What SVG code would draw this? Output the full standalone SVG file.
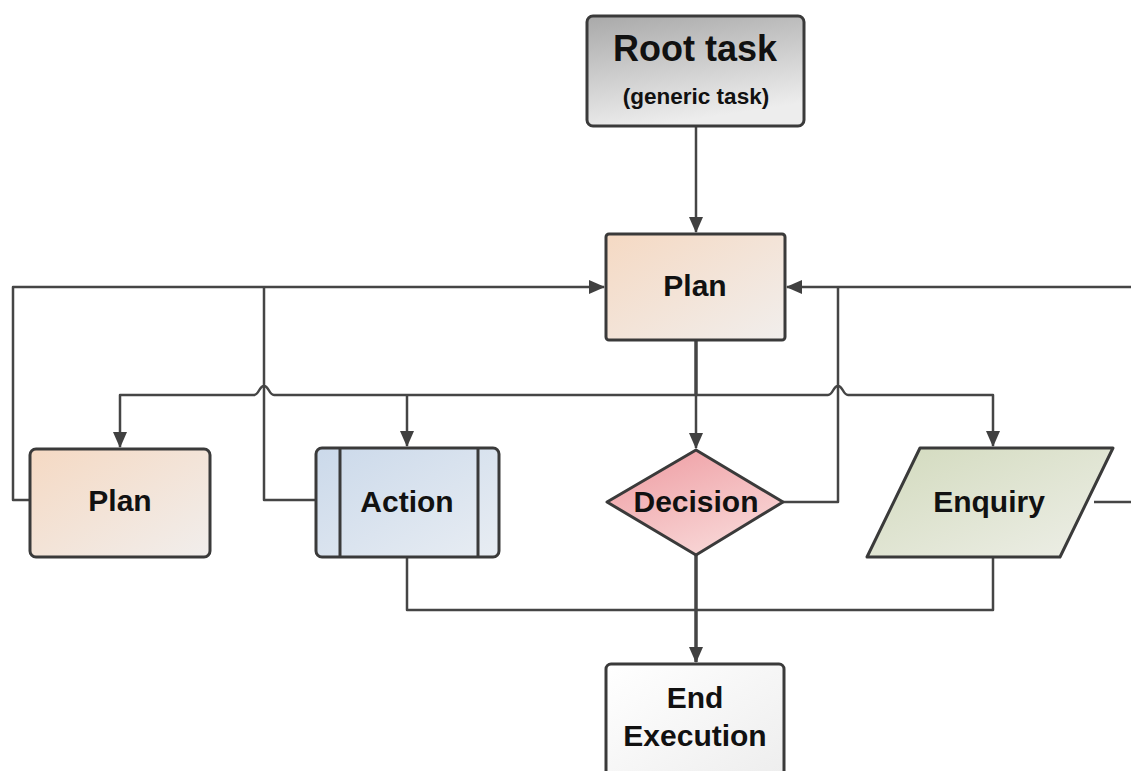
<svg xmlns="http://www.w3.org/2000/svg" width="1131" height="771" viewBox="0 0 1131 771">
<defs>
<linearGradient id="gRoot" x1="0" y1="0" x2="0.3" y2="1"><stop offset="0" stop-color="#a9a9a9"/><stop offset="1" stop-color="#ededed"/></linearGradient>
<linearGradient id="gPlan" x1="0" y1="0" x2="1" y2="1"><stop offset="0" stop-color="#f5d9c3"/><stop offset="1" stop-color="#f1eeec"/></linearGradient>
<linearGradient id="gAct" x1="0" y1="0" x2="1" y2="1"><stop offset="0" stop-color="#cbd9ea"/><stop offset="1" stop-color="#e8edf3"/></linearGradient>
<linearGradient id="gDec" x1="0" y1="0" x2="0.6" y2="1"><stop offset="0" stop-color="#ee9aa0"/><stop offset="1" stop-color="#f8d6d6"/></linearGradient>
<linearGradient id="gEnq" x1="0" y1="0" x2="1" y2="1"><stop offset="0" stop-color="#d2dabd"/><stop offset="1" stop-color="#eeefe8"/></linearGradient>
<linearGradient id="gEnd" x1="0" y1="0" x2="1" y2="1"><stop offset="0" stop-color="#ffffff"/><stop offset="1" stop-color="#ededed"/></linearGradient>
<marker id="arr" viewBox="0 0 16 14" refX="15" refY="7" markerWidth="16" markerHeight="14" markerUnits="userSpaceOnUse" orient="auto">
<path d="M0,0 L16,7 L0,14 z" fill="#404040"/>
</marker>
</defs>
<style>
.node{stroke:#3a3a3a;stroke-width:3;stroke-linejoin:round}
.t{font-family:"Liberation Sans",Arial,sans-serif;font-weight:bold;fill:#111111;text-anchor:middle}
.c{fill:none;stroke:#454545;stroke-width:2.5;stroke-linejoin:round}
</style>
<rect width="1131" height="771" fill="#ffffff"/>
<g id="connectors">
<path class="c" d="M696,126 L696,232" marker-end="url(#arr)"/>
<path class="c" d="M30,500 L13,500 L13,287 L604,287" marker-end="url(#arr)"/>
<path class="c" d="M316,500 L264,500 L264,287"/>
<path class="c" d="M1131,287 L838,287 L787,287" marker-end="url(#arr)"/>
<path class="c" d="M783,502 L838,502 L838,287"/>
<path class="c" d="M1094,502 L1131,502"/>
<path class="c" style="stroke-width:3.5" d="M696,340 L696,395"/>
<path class="c" d="M696,395 L274,395 C269,395 269,386 264,386 C259,386 259,395 254,395 L120,395 L120,447" marker-end="url(#arr)"/>
<path class="c" d="M407,395 L407,446" marker-end="url(#arr)"/>
<path class="c" d="M696,395 L696,448" marker-end="url(#arr)"/>
<path class="c" d="M696,395 L828,395 C833,395 833,386 838,386 C843,386 843,395 848,395 L993,395 L993,446" marker-end="url(#arr)"/>
<path class="c" d="M407,557 L407,610 L993,610 L993,557"/>
<path class="c" style="stroke-width:3.5" d="M696,555 L696,662" marker-end="url(#arr)"/>
</g>
<g id="root">
<rect class="node" x="587" y="16" width="217" height="110" rx="6" fill="url(#gRoot)"/>
<text class="t" x="695" y="61" font-size="36">Root task</text>
<text class="t" x="696" y="104" font-size="22.5">(generic task)</text>
</g>
<g id="plan-main">
<rect class="node" x="606" y="234" width="179" height="106" rx="3" fill="url(#gPlan)"/>
<text class="t" x="695" y="296" font-size="30">Plan</text>
</g>
<g id="plan-sub">
<rect class="node" x="30" y="449" width="180" height="108" rx="6" fill="url(#gPlan)"/>
<text class="t" x="120" y="511" font-size="30">Plan</text>
</g>
<g id="action">
<rect class="node" x="316" y="448" width="183" height="109" rx="6" fill="url(#gAct)"/>
<line class="node" x1="340" y1="448" x2="340" y2="557"/>
<line class="node" x1="478" y1="448" x2="478" y2="557"/>
<text class="t" x="407" y="512" font-size="30">Action</text>
</g>
<g id="decision">
<path class="node" d="M696,450 L783,502 L696,555 L607,502 Z" fill="url(#gDec)"/>
<text class="t" x="696" y="512" font-size="30">Decision</text>
</g>
<g id="enquiry">
<path class="node" d="M920,448 L1113,448 L1060,557 L867,557 Z" fill="url(#gEnq)"/>
<text class="t" x="989" y="512" font-size="30">Enquiry</text>
</g>
<g id="end">
<rect class="node" x="606" y="664" width="178" height="120" rx="5" fill="url(#gEnd)"/>
<text class="t" x="695" y="708" font-size="30">End</text>
<text class="t" x="695" y="746" font-size="30">Execution</text>
</g>
</svg>
